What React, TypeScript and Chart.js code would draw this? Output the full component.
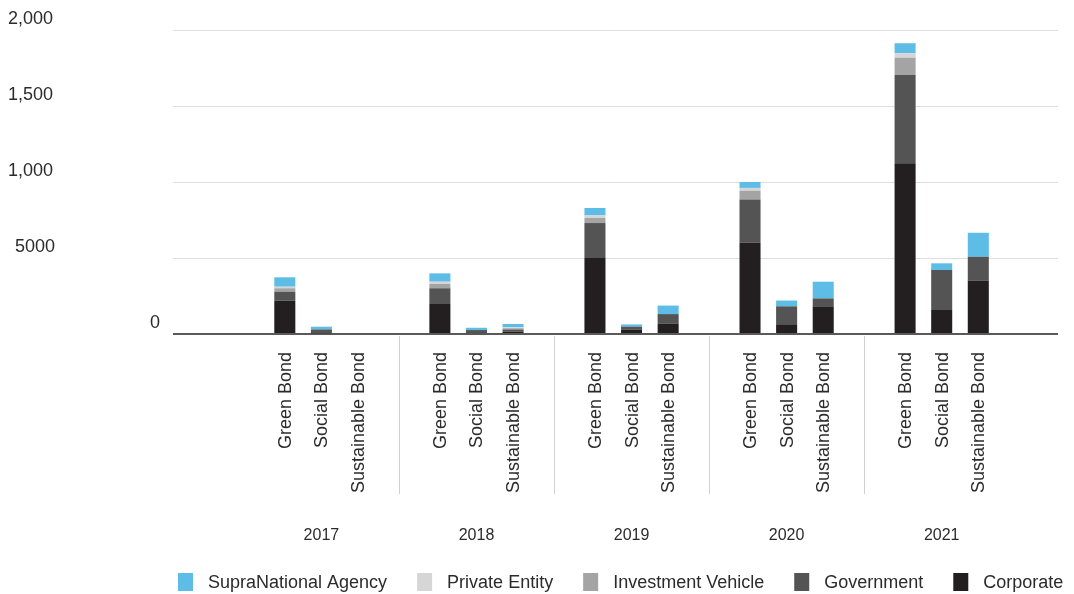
import React, { useEffect, useRef } from 'react';
import { Chart, registerables } from 'chart.js';

Chart.register(...registerables);

const years = ['2017', '2018', '2019', '2020', '2021'];
const bondTypes = ['Green Bond', 'Social Bond', 'Sustainable Bond'];
// Stacking order, bottom to top
const issuerTypes = ['Corporate', 'Government', 'Investment Vehicle', 'Private Entity', 'SupraNational Agency'];
// Legend order, left to right
const legendOrder = ['SupraNational Agency', 'Private Entity', 'Investment Vehicle', 'Government', 'Corporate'];

const yTickValues = [0, 500, 1000, 1500, 2000];
const yTickLabels = ['0', '5000', '1,000', '1,500', '2,000'];

// Green Bond
const greenCorporate = [219, 202, 500, 600, 1123];
const greenGovernment = [59, 99, 230, 285, 581];
const greenInvestment = [23, 28, 33, 58, 114];
const greenPrivate = [10, 15, 17, 18, 29];
const greenSupra = [62, 55, 49, 39, 66];

// Social Bond
const socialCorporate = [5, 6, 30, 64, 158];
const socialGovernment = [25, 20, 18, 118, 263];
const socialInvestment = [0, 0, 0, 0, 0];
const socialPrivate = [0, 0, 0, 0, 0];
const socialSupra = [18, 15, 15, 38, 44];

// Sustainable Bond
const sustainableCorporate = [0, 16, 67, 182, 352];
const sustainableGovernment = [0, 14, 64, 52, 156];
const sustainableInvestment = [0, 8, 0, 0, 0];
const sustainablePrivate = [0, 6, 0, 0, 0];
const sustainableSupra = [0, 22, 56, 110, 158];

const seriesByBond: Record<string, number[][]> = {
  'Green Bond': [greenCorporate, greenGovernment, greenInvestment, greenPrivate, greenSupra],
  'Social Bond': [socialCorporate, socialGovernment, socialInvestment, socialPrivate, socialSupra],
  'Sustainable Bond': [sustainableCorporate, sustainableGovernment, sustainableInvestment, sustainablePrivate, sustainableSupra],
};

const issuerColors: Record<string, string> = {
  'SupraNational Agency': '#5dbde6',
  'Private Entity': '#d6d6d6',
  'Investment Vehicle': '#a4a4a4',
  'Government': '#545454',
  'Corporate': '#231f20',
};

const FONT = '"Liberation Sans", Arial, Helvetica, sans-serif';
const TEXT = '#2b2b2b';

const labelsPlugin = {
  id: 'bondLabels',
  afterDraw(chart: any) {
    const { ctx } = chart;
    const x = chart.scales.x;
    const y = chart.scales.y;
    ctx.save();

    // value axis labels, sitting above their grid lines
    ctx.fillStyle = TEXT;
    ctx.font = `18px ${FONT}`;
    ctx.textBaseline = 'middle';
    yTickValues.forEach((v, i) => {
      const py = y.getPixelForValue(v) - 11;
      if (v === 0) {
        ctx.textAlign = 'right';
        ctx.fillText(yTickLabels[i], x.left - 13, py);
      } else {
        ctx.textAlign = 'left';
        ctx.fillText(yTickLabels[i], v === 500 ? 15 : 8, py);
      }
    });

    // separators between years
    ctx.strokeStyle = '#d2d2d2';
    ctx.lineWidth = 1;
    for (let i = 0; i < years.length - 1; i++) {
      const px = Math.round(x.getPixelForValue(i + 0.5)) + 0.5;
      ctx.beginPath();
      ctx.moveTo(px, y.bottom + 2);
      ctx.lineTo(px, 494);
      ctx.stroke();
    }

    // rotated bond type labels under each bar
    ctx.font = `18px ${FONT}`;
    ctx.fillStyle = TEXT;
    ctx.textAlign = 'right';
    ctx.textBaseline = 'middle';
    bondTypes.forEach((bond, b) => {
      const meta = chart.getDatasetMeta(b * issuerTypes.length);
      years.forEach((_, i) => {
        const el = meta.data[i];
        if (!el) return;
        ctx.save();
        ctx.translate(el.x, y.bottom + 18);
        ctx.rotate(-Math.PI / 2);
        ctx.fillText(bond, 0, 1);
        ctx.restore();
      });
    });

    // year labels
    ctx.font = `16px ${FONT}`;
    ctx.textAlign = 'center';
    years.forEach((yr, i) => {
      ctx.fillText(yr, x.getPixelForValue(i), 536);
    });

    // legend
    ctx.font = `18px ${FONT}`;
    const boxW = 15;
    const boxH = 18;
    const textGap = 15;
    const itemGap = 30;
    const widths = legendOrder.map((name) => ctx.measureText(name).width);
    let lx = 178;
    const ly = 582;
    ctx.textAlign = 'left';
    legendOrder.forEach((name, k) => {
      ctx.fillStyle = issuerColors[name];
      ctx.fillRect(lx, ly - boxH / 2, boxW, boxH);
      ctx.fillStyle = TEXT;
      ctx.fillText(name, lx + boxW + textGap, ly + 1);
      lx += boxW + textGap + widths[k] + itemGap;
    });

    ctx.restore();
  },
};

export default function App() {
  const canvasRef = useRef<HTMLCanvasElement | null>(null);

  useEffect(() => {
    const canvas = canvasRef.current;
    if (!canvas) return;

    const datasets: any[] = [];
    bondTypes.forEach((bond) => {
      issuerTypes.forEach((issuer, k) => {
        datasets.push({
          label: issuer,
          stack: bond,
          data: seriesByBond[bond][k].map((v, i) => ({ x: i, y: v })),
          backgroundColor: issuerColors[issuer],
          borderWidth: 0,
          categoryPercentage: 0.708,
          barPercentage: 0.575,
        });
      });
    });

    const chart = new Chart(canvas, {
      type: 'bar',
      data: { datasets },
      options: {
        animation: false,
        responsive: false,
        events: [],
        layout: { padding: { left: 173, right: 16, top: 30, bottom: 260 } },
        plugins: {
          legend: { display: false },
          tooltip: { enabled: false },
        },
        scales: {
          x: {
            type: 'linear',
            display: false,
            offset: false,
            min: -0.957,
            max: 4.75,
            afterBuildTicks: (scale: any) => {
              scale.ticks = years.map((_, i) => ({ value: i }));
            },
          },
          y: {
            stacked: true,
            min: 0,
            max: 2000,
            ticks: { display: false, stepSize: 500 },
            border: { display: false },
            grid: {
              drawTicks: false,
              color: (c: any) => (c.tick && c.tick.value === 0 ? '#5a5a5a' : '#dedede'),
              lineWidth: (c: any) => (c.tick && c.tick.value === 0 ? 2 : 1),
            },
          },
        },
      },
      plugins: [labelsPlugin],
    } as any);

    return () => chart.destroy();
  }, []);

  return (
    <div style={{ position: 'fixed', left: 0, top: 0, width: 1074, height: 594, background: '#fff' }}>
      <canvas ref={canvasRef} width={1074} height={594} style={{ display: 'block' }} />
    </div>
  );
}
